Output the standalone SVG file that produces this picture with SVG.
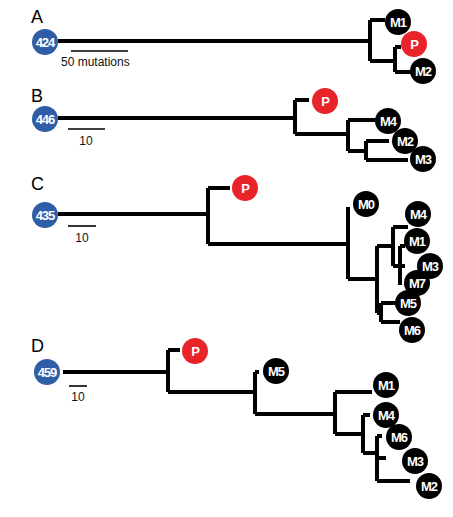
<svg xmlns="http://www.w3.org/2000/svg" width="453" height="517" viewBox="0 0 453 517">
<style>
.e{fill:none;stroke:#000;stroke-width:4;stroke-linecap:butt;stroke-linejoin:miter}
.s{fill:none;stroke:#000;stroke-width:1.6}
.root{fill:#2f5da6}
.p{fill:#e8232a}
.m{fill:#000}
.t{font-family:"Liberation Sans",Arial,sans-serif;font-size:13px;font-weight:bold;fill:#fff;text-anchor:middle;letter-spacing:-1px}
.lab{font-family:"Liberation Sans",Arial,sans-serif;font-size:18px;fill:#000}
.sc{font-family:"Liberation Sans",Arial,sans-serif;font-size:12px;fill:#111}
</style>
<rect width="453" height="517" fill="#fff"/>
<g id="connectors">
<path class="e" d="M58 41H370M370 20V61M370 20H385M370 61H395M395 47V72M395 47H401M395 72H412"/>
<path class="e" d="M58 118H295M295 100V134M295 100H309M295 134H348M348 120V151M348 120H377M348 151H366M366 141V160M366 141H389M366 160H408"/>
<path class="e" d="M58 214H208M208 188V244M208 188H230M208 244H348M348 207V279M348 279H377M377 246V313M377 246H393M393 227V266M393 227H408M393 266H405M400 246V285M400 246H405M377 313H381M381 303V322M381 303H397M381 322H400"/>
<path class="e" d="M63 372H168M168 350V392M168 350H180M168 392H255M255 372V414M255 372H259M255 414H335M335 392V434M335 392H372M335 434H363M363 415V453M363 415H370M363 453H377M377 436V481M377 436H382M377 458H386M377 481H410"/>
</g>
<g id="scales">
<line class="s" x1="71" y1="51" x2="128" y2="51"/>
<text class="sc" x="61" y="66">50 mutations</text>
<line class="s" x1="68" y1="129" x2="105" y2="129"/>
<text class="sc" x="86" y="145" text-anchor="middle">10</text>
<line class="s" x1="68" y1="226" x2="96" y2="226"/>
<text class="sc" x="82" y="242" text-anchor="middle">10</text>
<line class="s" x1="69" y1="386" x2="87" y2="386"/>
<text class="sc" x="78" y="401" text-anchor="middle">10</text>
</g>
<g id="labels">
<text class="lab" x="31" y="23">A</text>
<text class="lab" x="31" y="102">B</text>
<text class="lab" x="31" y="190">C</text>
<text class="lab" x="31" y="352">D</text>
</g>
<g id="A-root"><circle class="root" cx="45" cy="42" r="13"/><text class="t" x="45" y="46.5">424</text></g>
<g id="A-M1"><circle class="m" cx="398" cy="22" r="13"/><text class="t" x="398" y="26.5">M1</text></g>
<g id="A-P"><circle class="p" cx="414" cy="44" r="13"/><text class="t" x="414" y="48.5">P</text></g>
<g id="A-M2"><circle class="m" cx="423" cy="71" r="13"/><text class="t" x="423" y="75.5">M2</text></g>
<g id="B-root"><circle class="root" cx="45" cy="119" r="13"/><text class="t" x="45" y="123.5">446</text></g>
<g id="B-P"><circle class="p" cx="325" cy="101" r="13"/><text class="t" x="325" y="105.5">P</text></g>
<g id="B-M4"><circle class="m" cx="388" cy="121" r="13"/><text class="t" x="388" y="125.5">M4</text></g>
<g id="B-M2"><circle class="m" cx="405" cy="141" r="13"/><text class="t" x="405" y="145.5">M2</text></g>
<g id="B-M3"><circle class="m" cx="423" cy="159" r="13"/><text class="t" x="423" y="163.5">M3</text></g>
<g id="C-root"><circle class="root" cx="45" cy="215" r="13"/><text class="t" x="45" y="219.5">435</text></g>
<g id="C-P"><circle class="p" cx="245" cy="188" r="13"/><text class="t" x="245" y="192.5">P</text></g>
<g id="C-M0"><circle class="m" cx="366" cy="204" r="13"/><text class="t" x="366" y="208.5">M0</text></g>
<g id="C-M4"><circle class="m" cx="418" cy="214" r="13"/><text class="t" x="418" y="218.5">M4</text></g>
<g id="C-M1"><circle class="m" cx="417" cy="241" r="13"/><text class="t" x="417" y="245.5">M1</text></g>
<g id="C-M3"><circle class="m" cx="430" cy="266" r="13"/><text class="t" x="430" y="270.5">M3</text></g>
<g id="C-M7"><circle class="m" cx="417" cy="283" r="13"/><text class="t" x="417" y="287.5">M7</text></g>
<g id="C-M5"><circle class="m" cx="408" cy="303" r="13"/><text class="t" x="408" y="307.5">M5</text></g>
<g id="C-M6"><circle class="m" cx="412" cy="330" r="13"/><text class="t" x="412" y="334.5">M6</text></g>
<g id="D-root"><circle class="root" cx="47" cy="372" r="13"/><text class="t" x="47" y="376.5">459</text></g>
<g id="D-P"><circle class="p" cx="195" cy="351" r="13"/><text class="t" x="195" y="355.5">P</text></g>
<g id="D-M5"><circle class="m" cx="276" cy="371" r="13"/><text class="t" x="276" y="375.5">M5</text></g>
<g id="D-M1"><circle class="m" cx="386" cy="385" r="13"/><text class="t" x="386" y="389.5">M1</text></g>
<g id="D-M4"><circle class="m" cx="386" cy="415" r="13"/><text class="t" x="386" y="419.5">M4</text></g>
<g id="D-M6"><circle class="m" cx="399" cy="437" r="13"/><text class="t" x="399" y="441.5">M6</text></g>
<g id="D-M3"><circle class="m" cx="415" cy="461" r="13"/><text class="t" x="415" y="465.5">M3</text></g>
<g id="D-M2"><circle class="m" cx="429" cy="486" r="13"/><text class="t" x="429" y="490.5">M2</text></g>
</svg>
